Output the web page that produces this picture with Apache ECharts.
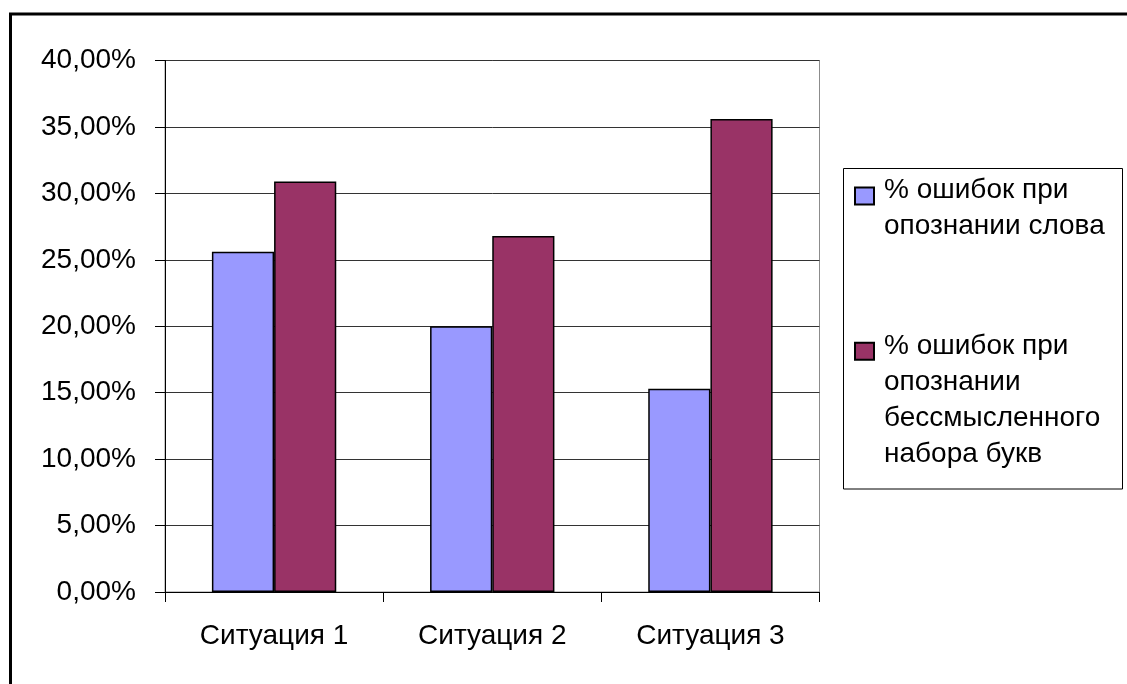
<!DOCTYPE html>
<html>
<head>
<meta charset="utf-8">
<script src="https://cdn.jsdelivr.net/npm/echarts@6/dist/echarts.min.js"></script>
<style>
  html, body { margin: 0; padding: 0; background: #fff; }
  #chart { width: 1127px; height: 684px; }
</style>
</head>
<body>
<div id="chart"></div>
<script>
// categories and values (percent)
var categories = ['Ситуация 1', 'Ситуация 2', 'Ситуация 3'];
var wordErrors = [25.6, 20.0, 15.3];
var nonsenseErrors = [30.9, 26.8, 35.6];
var seriesNames = ['% ошибок при опознании слова', '% ошибок при опознании бессмысленного набора букв'];
var legendLines = [
  ['% ошибок при', 'опознании слова'],
  ['% ошибок при', 'опознании', 'бессмысленного', 'набора букв']
];

var FONT = 'Liberation Sans, Arial, sans-serif';
var LINE_H = 36;
var RAISE = 5.5; // first text line sits a little above the marker centre

var chart = echarts.init(document.getElementById('chart'));

// legend text is centred on the marker, so spacer lines in front push
// the first line level with the marker
function legendFor(idx, markerY) {
  var lines = legendLines[idx];
  var n = lines.length;
  var padH = LINE_H - 2 * RAISE / (n - 1);
  var parts = [];
  for (var i = 1; i < n; i++) parts.push('{p| }');
  lines.forEach(function (l) { parts.push('{t|' + l + '}'); });
  var blockH = (n - 1) * padH + n * LINE_H;
  return {
    data: [seriesNames[idx]],
    left: 854,
    top: markerY - blockH / 2,
    padding: 0,
    itemWidth: 19,
    itemHeight: 17,
    icon: 'rect',
    selectedMode: false,
    formatter: function () { return parts.join('\n'); },
    textStyle: {
      fontFamily: FONT,
      fontSize: 28,
      color: '#000',
      rich: {
        p: { fontSize: 28, lineHeight: padH },
        t: { fontFamily: FONT, fontSize: 28, color: '#000', lineHeight: LINE_H, padding: [0, 0, 0, 5] }
      }
    }
  };
}

var option = {
  backgroundColor: '#fff',
  animation: false,
  grid: {
    left: 165,
    right: 307.5,
    top: 60.5,
    bottom: 92,
    show: true,
    borderColor: '#8c8c8c',
    borderWidth: 1
  },
  legend: [
    legendFor(0, 194.5),
    legendFor(1, 353.5)
  ],
  graphic: [
    {
      type: 'rect',
      shape: { x: 10.5, y: 14, width: 1300, height: 1000 },
      style: { fill: null, stroke: '#000', lineWidth: 3 },
      silent: true
    },
    {
      type: 'rect',
      shape: { x: 843.5, y: 168.5, width: 279, height: 320.5 },
      style: { fill: null, stroke: '#000', lineWidth: 1 },
      silent: true,
      z: -1
    }
  ],
  xAxis: {
    type: 'category',
    data: categories,
    axisLine: { lineStyle: { color: '#000', width: 1 } },
    axisTick: { show: true, length: 10, lineStyle: { color: '#000' } },
    axisLabel: {
      fontFamily: FONT,
      fontSize: 28,
      color: '#000',
      margin: 30
    }
  },
  yAxis: {
    type: 'value',
    min: 0,
    max: 40,
    interval: 5,
    axisLine: { show: true, lineStyle: { color: '#000', width: 1 } },
    axisTick: { show: true, length: 10, lineStyle: { color: '#000' } },
    splitLine: { lineStyle: { color: '#333', width: 1 } },
    axisLabel: {
      fontFamily: FONT,
      fontSize: 28,
      color: '#000',
      margin: 29,
      formatter: function (v) { return v.toFixed(2).replace('.', ',') + '%'; }
    }
  },
  series: [
    {
      name: seriesNames[0],
      type: 'bar',
      data: wordErrors,
      barGap: '0%',
      barCategoryGap: '43%',
      itemStyle: { color: '#9999FF', borderColor: '#000', borderWidth: 1.5 }
    },
    {
      name: seriesNames[1],
      type: 'bar',
      data: nonsenseErrors,
      itemStyle: { color: '#993366', borderColor: '#000', borderWidth: 1.5 }
    }
  ]
};

chart.setOption(option);
</script>
</body>
</html>
